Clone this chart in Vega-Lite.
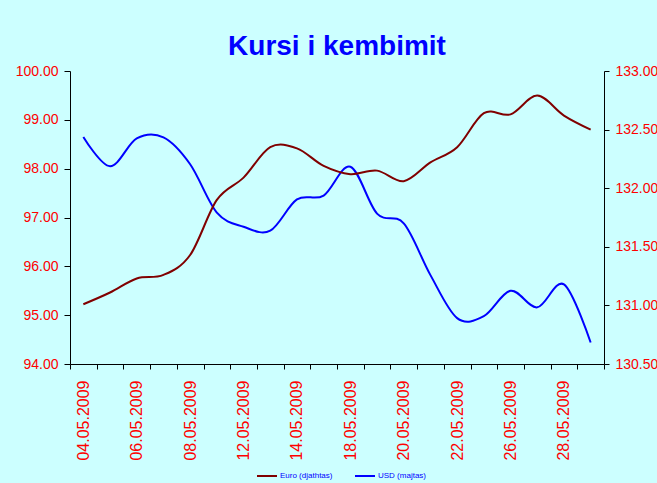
{
  "$schema": "https://vega.github.io/schema/vega-lite/v6.json",
  "width": 534,
  "height": 293,
  "autosize": {"type": "none"},
  "padding": {"left": 70, "top": 71, "right": 53, "bottom": 119},
  "background": "#CCFFFF",
  "title": {
    "text": "Kursi i kembimit",
    "font": "Liberation Sans",
    "fontSize": 28,
    "fontWeight": "bold",
    "color": "#0000FF",
    "anchor": "middle",
    "offset": 15,
    "dy": 12
  },
  "data": {
    "values": [
      {"date": "04.05.2009", "series": "Euro (djathtas)", "value": 131.01},
      {"date": "05.05.2009", "series": "Euro (djathtas)", "value": 131.11},
      {"date": "06.05.2009", "series": "Euro (djathtas)", "value": 131.23},
      {"date": "07.05.2009", "series": "Euro (djathtas)", "value": 131.26},
      {"date": "08.05.2009", "series": "Euro (djathtas)", "value": 131.43},
      {"date": "11.05.2009", "series": "Euro (djathtas)", "value": 131.90},
      {"date": "12.05.2009", "series": "Euro (djathtas)", "value": 132.09},
      {"date": "13.05.2009", "series": "Euro (djathtas)", "value": 132.35},
      {"date": "14.05.2009", "series": "Euro (djathtas)", "value": 132.34},
      {"date": "15.05.2009", "series": "Euro (djathtas)", "value": 132.19},
      {"date": "18.05.2009", "series": "Euro (djathtas)", "value": 132.12},
      {"date": "19.05.2009", "series": "Euro (djathtas)", "value": 132.15},
      {"date": "20.05.2009", "series": "Euro (djathtas)", "value": 132.06},
      {"date": "21.05.2009", "series": "Euro (djathtas)", "value": 132.22},
      {"date": "22.05.2009", "series": "Euro (djathtas)", "value": 132.35},
      {"date": "25.05.2009", "series": "Euro (djathtas)", "value": 132.64},
      {"date": "26.05.2009", "series": "Euro (djathtas)", "value": 132.63},
      {"date": "27.05.2009", "series": "Euro (djathtas)", "value": 132.79},
      {"date": "28.05.2009", "series": "Euro (djathtas)", "value": 132.62},
      {"date": "29.05.2009", "series": "Euro (djathtas)", "value": 132.50},
      {"date": "04.05.2009", "series": "USD (majtas)", "value": 98.65},
      {"date": "05.05.2009", "series": "USD (majtas)", "value": 98.05},
      {"date": "06.05.2009", "series": "USD (majtas)", "value": 98.62},
      {"date": "07.05.2009", "series": "USD (majtas)", "value": 98.64},
      {"date": "08.05.2009", "series": "USD (majtas)", "value": 98.09},
      {"date": "11.05.2009", "series": "USD (majtas)", "value": 97.10},
      {"date": "12.05.2009", "series": "USD (majtas)", "value": 96.81},
      {"date": "13.05.2009", "series": "USD (majtas)", "value": 96.73},
      {"date": "14.05.2009", "series": "USD (majtas)", "value": 97.37},
      {"date": "15.05.2009", "series": "USD (majtas)", "value": 97.45},
      {"date": "18.05.2009", "series": "USD (majtas)", "value": 98.04},
      {"date": "19.05.2009", "series": "USD (majtas)", "value": 97.08},
      {"date": "20.05.2009", "series": "USD (majtas)", "value": 96.88},
      {"date": "21.05.2009", "series": "USD (majtas)", "value": 95.82},
      {"date": "22.05.2009", "series": "USD (majtas)", "value": 94.94},
      {"date": "25.05.2009", "series": "USD (majtas)", "value": 94.98},
      {"date": "26.05.2009", "series": "USD (majtas)", "value": 95.50},
      {"date": "27.05.2009", "series": "USD (majtas)", "value": 95.16},
      {"date": "28.05.2009", "series": "USD (majtas)", "value": 95.63},
      {"date": "29.05.2009", "series": "USD (majtas)", "value": 94.44}
    ]
  },
  "encoding": {
    "x": {
      "field": "date",
      "type": "nominal",
      "sort": null,
      "scale": {"type": "band", "paddingInner": 0, "paddingOuter": 0},
      "axis": {
        "title": null,
        "tickBand": "extent",
        "labelAngle": 270,
        "labelAlign": "right",
        "labelBaseline": "middle",
        "labelFont": "Liberation Sans",
        "labelFontSize": 16,
        "labelColor": "#FF0000",
        "labelPadding": 11,
        "labelExpr": "indexof(['04.05.2009','06.05.2009','08.05.2009','12.05.2009','14.05.2009','18.05.2009','20.05.2009','22.05.2009','26.05.2009','28.05.2009'], datum.value) >= 0 ? datum.label : ''",
        "labelOverlap": false,
        "domainColor": "#000000",
        "tickColor": "#000000",
        "tickSize": 5,
        "grid": false
      }
    },
    "color": {
      "field": "series",
      "type": "nominal",
      "scale": {"domain": ["Euro (djathtas)", "USD (majtas)"], "range": ["#800000", "#0000FF"]},
      "legend": {
        "title": null,
        "orient": "none",
        "legendX": 186,
        "legendY": 394,
        "direction": "horizontal",
        "symbolType": "stroke",
        "symbolSize": 400,
        "symbolStrokeWidth": 2,
        "labelFont": "Liberation Sans",
        "labelFontSize": 8,
        "labelColor": "#0000FF",
        "labelOffset": 2,
        "columnPadding": 18
      }
    }
  },
  "layer": [
    {
      "transform": [{"filter": "datum.series === 'USD (majtas)'"}],
      "mark": {"type": "line", "interpolate": "cardinal", "tension": 0, "strokeWidth": 2},
      "encoding": {
        "y": {
          "field": "value",
          "type": "quantitative",
          "scale": {"domain": [94, 100], "zero": false, "nice": false},
          "axis": {
            "orient": "left",
            "title": null,
            "values": [94, 95, 96, 97, 98, 99, 100],
            "format": ".2f",
            "labelFont": "Liberation Sans",
            "labelFontSize": 14,
            "labelColor": "#FF0000",
            "labelPadding": 6,
            "domainColor": "#000000",
            "tickColor": "#000000",
            "tickSize": 6,
            "grid": false
          }
        }
      }
    },
    {
      "transform": [{"filter": "datum.series === 'Euro (djathtas)'"}],
      "mark": {"type": "line", "interpolate": "cardinal", "tension": 0, "strokeWidth": 2},
      "encoding": {
        "y": {
          "field": "value",
          "type": "quantitative",
          "scale": {"domain": [130.5, 133], "zero": false, "nice": false},
          "axis": {
            "orient": "right",
            "title": null,
            "values": [130.5, 131, 131.5, 132, 132.5, 133],
            "format": ".2f",
            "labelFont": "Liberation Sans",
            "labelFontSize": 14,
            "labelColor": "#FF0000",
            "labelPadding": 6,
            "domainColor": "#000000",
            "tickColor": "#000000",
            "tickSize": 5,
            "grid": false
          }
        }
      }
    }
  ],
  "resolve": {"scale": {"y": "independent"}},
  "config": {
    "view": {"stroke": null},
    "axis": {"domainWidth": 1, "tickWidth": 1}
  }
}
